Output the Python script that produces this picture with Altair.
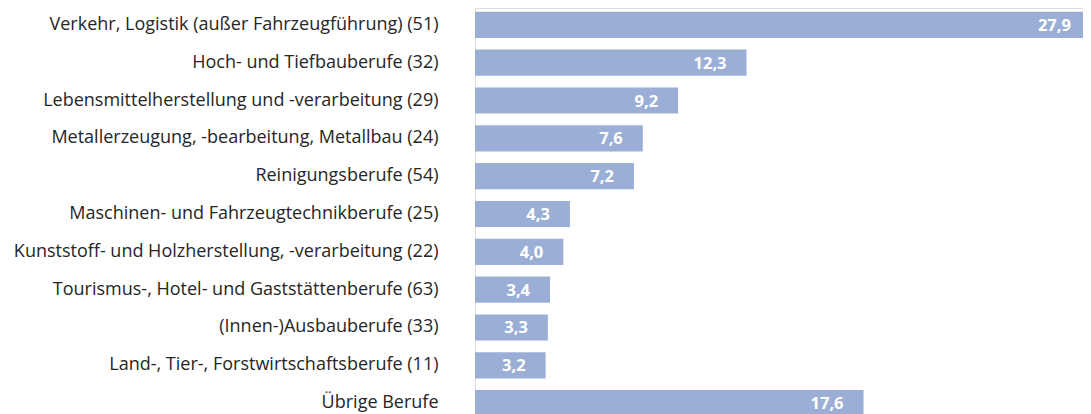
import altair as alt
import pandas as pd

categories = [
    "Verkehr, Logistik (außer Fahrzeugführung) (51)",
    "Hoch- und Tiefbauberufe (32)",
    "Lebensmittelherstellung und -verarbeitung (29)",
    "Metallerzeugung, -bearbeitung, Metallbau (24)",
    "Reinigungsberufe (54)",
    "Maschinen- und Fahrzeugtechnikberufe (25)",
    "Kunststoff- und Holzherstellung, -verarbeitung (22)",
    "Tourismus-, Hotel- und Gaststättenberufe (63)",
    "(Innen-)Ausbauberufe (33)",
    "Land-, Tier-, Forstwirtschaftsberufe (11)",
    "Übrige Berufe",
]
values = [27.9, 12.3, 9.2, 7.6, 7.2, 4.3, 4.0, 3.4, 3.3, 3.2, 17.6]
value_labels = ["27,9", "12,3", "9,2", "7,6", "7,2", "4,3", "4,0", "3,4", "3,3", "3,2", "17,6"]

df = pd.DataFrame({"cat": categories, "val": values, "lbl": value_labels})

y = alt.Y("cat:N", sort=categories, title=None,
          scale=alt.Scale(paddingInner=0.31, paddingOuter=0.1),
          axis=alt.Axis(domain=False, ticks=False, grid=False, labelFont="Open Sans", labelFontSize=18,
                        labelColor="#262626", labelPadding=37, labelLimit=0))
x = alt.X("val:Q", title=None, scale=alt.Scale(domain=[0, 27.54], nice=False, zero=True),
          axis=None)

bars = alt.Chart(df).mark_bar(color="#9BAFD6").encode(x=x, y=y)
text = alt.Chart(df).mark_text(align="right", baseline="middle", dx=-20, dy=1,
                               font="Open Sans", fontSize=16.5, fontWeight="bold",
                               color="white").encode(x=x, y=y, text="lbl:N")

chart = (bars + text).properties(
    width=608, height=412,
    autosize=alt.AutoSizeParams(type="none"),
    padding={"left": 467, "top": 0, "right": 0, "bottom": 0},
).configure_view(
    stroke="transparent"
).configure_axis(
    domain=False, grid=False, ticks=False
).configure(background="white")

chart.save("out.html", embed_options={"renderer": "svg", "actions": False})
